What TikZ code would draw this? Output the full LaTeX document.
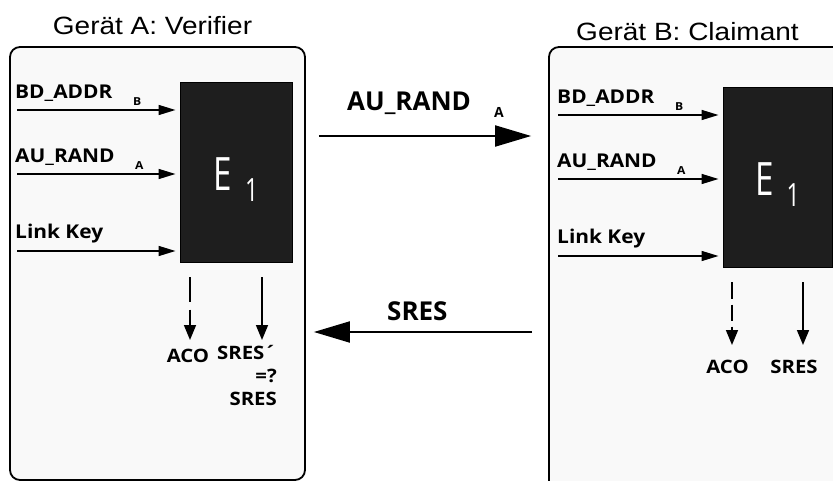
\documentclass[tikz,border=0pt]{standalone}
\usepackage{fontspec}
\usepackage{tikz}
\usetikzlibrary{arrows.meta,positioning,calc}

\newfontfamily\titlefont[FakeStretch=1.12]{Liberation Sans}
\newfontfamily\labelfont[FakeStretch=1.1]{Open Sans}
\newfontfamily\msgfont{Open Sans}
\newfontfamily\enginefont[FakeStretch=0.72]{Open Sans}

\definecolor{devicefill}{HTML}{F9F9F9}
\definecolor{enginefill}{HTML}{1E1E1E}

% E_1 inscription of the engine boxes, set on the box centre
\newcommand{\enginetext}{\smash{\raisebox{-18pt}{E}\hspace{13pt}\raisebox{-29pt}{\fontsize{32}{32}\selectfont 1}}}

\begin{document}
\begin{tikzpicture}[
    x=1pt, y=-1pt,
    device/.style={rectangle, draw=black, line width=1.8pt, fill=devicefill, rounded corners=10pt, inner sep=0pt},
    title/.style={font=\titlefont\fontsize{25}{25}\selectfont, inner sep=0pt, anchor=base},
    engine/.style={rectangle, draw=black, line width=1pt, fill=enginefill, text=white, inner sep=0pt, font=\enginefont\fontsize{46}{46}\selectfont},
    inlabel/.style={font=\labelfont\bfseries\fontsize{19}{19}\selectfont, inner sep=0pt, anchor=base west},
    sublabel/.style={font=\labelfont\bfseries\fontsize{11}{11}\selectfont, inner sep=0pt, anchor=base west},
    outlabel/.style={font=\labelfont\bfseries\fontsize{18.5}{23}\selectfont, inner sep=0pt, anchor=base},
    msglabel/.style={font=\msgfont\bfseries\fontsize{26}{26}\selectfont, inner sep=0pt, anchor=base west},
    msgsub/.style={font=\msgfont\bfseries\fontsize{14}{14}\selectfont, inner sep=0pt, anchor=base west},
    inarrow/.style={-{Triangle[length=17pt,width=10pt]}, line width=1.6pt, shorten >=4pt},
    outarrow/.style={-{Triangle[length=15pt,width=12pt]}, line width=1.6pt, shorten <=14pt},
    msgarrow/.style={-{Triangle[length=36pt,width=21pt]}, line width=2pt}
]
\useasboundingbox (0,0) rectangle (833,481);
\clip (0,0) rectangle (833,481);

% Devices
\node[device, minimum width=295pt, minimum height=433pt] (devA) at (157.5,263.5) {};
\node[device, minimum width=300pt, minimum height=460pt] (devB) at (699,277) {};
\node[title] (titleA) at (152.5,35) {Gerät A: Verifier};
\node[title] (titleB) at (687.5,41) {Gerät B: Claimant};

% Authentication engines
\node[engine, minimum width=112pt, minimum height=180pt] (e1A) at (236,173) {\enginetext};
\node[engine, minimum width=109pt, minimum height=180pt] (e1B) at (777.5,178) {\enginetext};

% Inputs of the verifier
\node[inlabel] (bdA) at (15,99) {BD\_ADDR};
\node[sublabel] (bdsubA) at (133,106) {B};
\node[inlabel] (randA) at (15,163) {AU\_RAND};
\node[sublabel] (randsubA) at (135,170) {A};
\node[inlabel] (keyA) at (15,239) {Link Key};
\coordinate (bdinA) at (17,110);
\coordinate (randinA) at (17,174);
\coordinate (keyinA) at (17,251);
\draw[inarrow] (bdinA) -- (bdinA -| e1A.west);
\draw[inarrow] (randinA) -- (randinA -| e1A.west);
\draw[inarrow] (keyinA) -- (keyinA -| e1A.west);

% Inputs of the claimant
\node[inlabel] (bdB) at (557,104) {BD\_ADDR};
\node[sublabel] (bdsubB) at (675,111) {B};
\node[inlabel] (randB) at (557,168) {AU\_RAND};
\node[sublabel] (randsubB) at (677,175) {A};
\node[inlabel] (keyB) at (557,244) {Link Key};
\coordinate (bdinB) at (558,115);
\coordinate (randinB) at (558,179);
\coordinate (keyinB) at (558,256);
\draw[inarrow] (bdinB) -- (bdinB -| e1B.west);
\draw[inarrow] (randinB) -- (randinB -| e1B.west);
\draw[inarrow] (keyinB) -- (keyinB -| e1B.west);

% Outputs
\coordinate (acoendA) at (190,340);
\coordinate (sresendA) at (262,340);
\draw[outarrow, dash pattern=on 24pt off 8pt] (e1A.south -| acoendA) -- (acoendA);
\draw[outarrow] (e1A.south -| sresendA) -- (sresendA);
\node[outlabel] (acoA) at (188,362) {ACO};
\node[outlabel, align=right, anchor=north east] (sresA) at (277,345) {SRES´\\=?\\SRES};

\coordinate (acoendB) at (732,345);
\coordinate (sresendB) at (803,345);
\draw[outarrow, dash pattern=on 16pt off 6pt] (e1B.south -| acoendB) -- (acoendB);
\draw[outarrow] (e1B.south -| sresendB) -- (sresendB);
\node[outlabel] (acoB) at (727.5,373) {ACO};
\node[outlabel] (sresB) at (794,373) {SRES};

% Messages between the devices
\coordinate (randlevel) at (0,136);
\coordinate (reslevel) at (0,332);
\draw[msgarrow, shorten <=13pt, shorten >=17pt] (devA.east |- randlevel) -- (devB.west |- randlevel);
\node[msglabel] (randmsg) at (347,111) {AU\_RAND};
\node[msgsub] (randmsgsub) at (494,118) {A};
\draw[msgarrow, shorten <=16pt, shorten >=8pt] (devB.west |- reslevel) -- (devA.east |- reslevel);
\node[msglabel] (resmsg) at (387,320) {SRES};

\end{tikzpicture}
\end{document}
